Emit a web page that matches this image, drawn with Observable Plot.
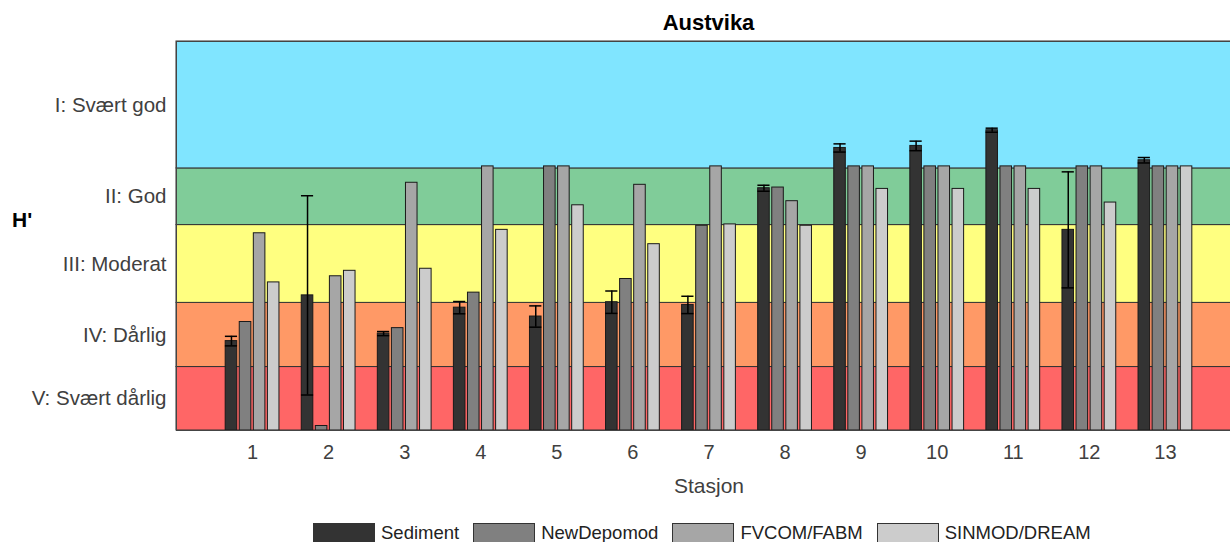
<!DOCTYPE html>
<html>
<head>
<meta charset="utf-8">
<script src="https://cdn.jsdelivr.net/npm/d3@7"></script>
<script src="https://cdn.jsdelivr.net/npm/@observablehq/plot@0.6"></script>
<style>
  html, body { margin: 0; padding: 0; background: #fff; overflow: hidden; }
  body { font-family: "Liberation Sans", Arial, sans-serif; }
  #wrap { position: relative; width: 1241px; height: 542px; }
  #title { height: 36px; padding-left: 176px; box-sizing: border-box; text-align: center;
           font-weight: bold; font-size: 22px; line-height: 22px; padding-top: 12px; color: #000; }
  #hlabel { position: absolute; left: 12px; top: 208px; font-weight: bold; font-size: 21px; color: #000; }
  #legend { display: flex; align-items: center; margin-top: 10px; padding-left: 313px; font-size: 18.5px; color: #222; }
  .sw { width: 62px; height: 20px; border: 1px solid #333; box-sizing: border-box; }
  .lab { margin-left: 6px; margin-right: 14px; white-space: nowrap; }
  svg { display: block; }
</style>
</head>
<body>
<div id="wrap">
  <div id="title">Austvika</div>
  <div id="chart"></div>
  <div id="legend"></div>
  <div id="hlabel">H'</div>
</div>
<script>
// ---- data ----
const stations = [1, 2, 3, 4, 5, 6, 7, 8, 9, 10, 11, 12, 13];
const seriesNames = ["Sediment", "NewDepomod", "FVCOM/FABM", "SINMOD/DREAM"];
const seriesColors = ["#333333", "#808080", "#a6a6a6", "#cccccc"];
const sediment    = [1.31, 1.98, 1.42, 1.80, 1.67, 1.88, 1.84, 3.55, 4.14, 4.17, 4.40, 2.94, 3.96];
const sedimentErr = [0.07, 1.46, 0.03, 0.09, 0.156, 0.164, 0.127, 0.044, 0.06, 0.07, 0.03, 0.85, 0.04];
const newDepomod  = [1.59, 0.066, 1.50, 2.02, 3.87, 2.22, 3.00, 3.56, 3.87, 3.87, 3.87, 3.87, 3.87];
const fvcomFabm   = [2.89, 2.26, 3.63, 3.87, 3.87, 3.60, 3.87, 3.36, 3.87, 3.87, 3.87, 3.87, 3.87];
const sinmodDream = [2.17, 2.34, 2.37, 2.94, 3.30, 2.73, 3.02, 3.00, 3.54, 3.54, 3.54, 3.34, 3.87];
const classLabels = ["V: Svært dårlig", "IV: Dårlig", "III: Moderat", "II: God", "I: Svært god"];
const classBounds = [0, 0.93, 1.87, 3.01, 3.84, 5.7];
const classColors = ["#ff6666", "#ff9966", "#ffff80", "#80cc99", "#80e5ff"];
const xDomain = [0, 14];

// ---- derived tables ----
const slot = 0.185, bw = 0.152, cap = 0.08;
const seriesValues = [sediment, newDepomod, fvcomFabm, sinmodDream];
const rows = stations.flatMap((s, i) => seriesNames.map((name, j) => ({
  station: s, series: name, j, value: seriesValues[j][i], color: seriesColors[j], base: 0
})));
const center = d => d.station + (d.j - 1.5) * slot;
const errRows = stations.map((s, i) => ({ station: s, j: 0, v: sediment[i], e: sedimentErr[i] }));
const capRows = errRows.flatMap(d => [{ ...d, y: d.v - d.e }, { ...d, y: d.v + d.e }]);
const bands = classLabels.map((label, k) => ({
  label, lo: classBounds[k], hi: classBounds[k + 1], mid: (classBounds[k] + classBounds[k + 1]) / 2, color: classColors[k]
}));
const labelByMid = new Map(bands.map(b => [b.mid, b.label]));

const chart = Plot.plot({
  width: 1241,
  height: 476,
  marginLeft: 176,
  marginRight: 0,
  marginTop: 5,
  marginBottom: 82,
  style: { fontFamily: "Liberation Sans, Arial, sans-serif", fontSize: "20px", color: "#404040", background: "transparent" },
  x: { domain: xDomain },
  y: { domain: [classBounds[0], classBounds[classBounds.length - 1]] },
  color: { type: "identity" },
  marks: [
    Plot.rect(bands, { y1: "lo", y2: "hi", fill: "color", stroke: "#333", strokeWidth: 1 }),
    Plot.rect(rows, {
      x1: d => center(d) - bw / 2, x2: d => center(d) + bw / 2,
      y1: "base", y2: "value", fill: "color", stroke: "#1a1a1a", strokeWidth: 1
    }),
    Plot.ruleX(errRows, { x: center, y1: d => d.v - d.e, y2: d => d.v + d.e, stroke: "#000", strokeWidth: 1.5 }),
    Plot.ruleY(capRows, { y: "y", x1: d => center(d) - cap, x2: d => center(d) + cap, stroke: "#000", strokeWidth: 1.5 }),
    Plot.frame({ stroke: "#444", strokeWidth: 1 }),
    Plot.axisY({ ticks: bands.map(b => b.mid), tickFormat: d => labelByMid.get(d), tickSize: 0, tickPadding: 10, label: null, fontSize: 20.5, fill: "#404040" }),
    Plot.axisX({ ticks: stations, tickFormat: d => String(d), tickSize: 0, tickPadding: 14, label: null, fontSize: 20, fill: "#404040" }),
    Plot.text(["Stasjon"], { text: d => d, frameAnchor: "bottom", dy: 62, fontSize: 21, fill: "#404040" })
  ]
});
document.getElementById("chart").appendChild(chart);

// ---- legend ----
const legend = document.getElementById("legend");
seriesNames.forEach((name, j) => {
  const sw = document.createElement("div");
  sw.className = "sw";
  sw.style.background = seriesColors[j];
  const lab = document.createElement("span");
  lab.className = "lab";
  lab.textContent = name;
  legend.appendChild(sw);
  legend.appendChild(lab);
});
</script>
</body>
</html>
